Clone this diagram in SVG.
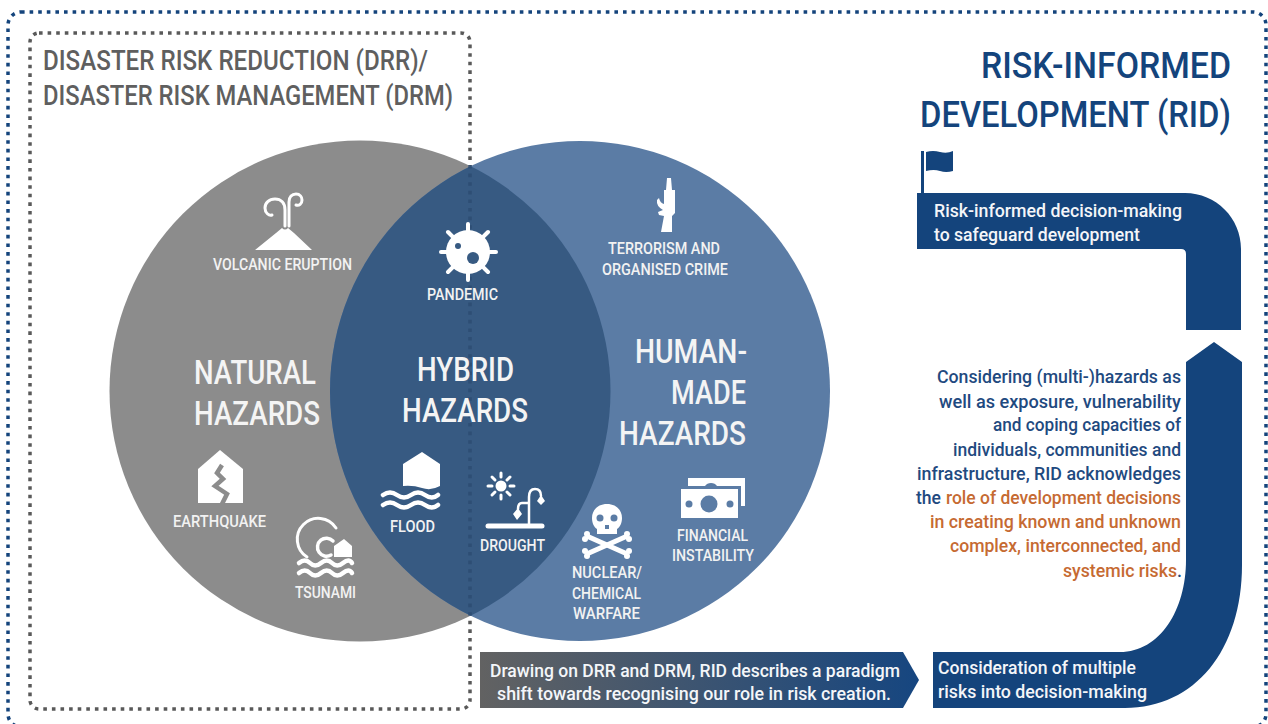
<svg xmlns="http://www.w3.org/2000/svg" width="1268" height="724" viewBox="0 0 1268 724">
<style>
text{font-family:"Roboto","Liberation Sans",sans-serif;font-weight:500}
.lab{fill:#f2f2f2;font-size:16px}
.big{fill:#f4f4f4;font-size:33.500px;font-weight:500}
.hd{fill:#5f5f5f;font-size:27.500px;font-weight:500}
.ttl{fill:#14447c;font-size:37px;font-weight:500}
.body{font-size:18px}
.bl{fill:#1f4a80}
.or{fill:#c66a32}
.wt{fill:#f4f6f9;font-size:18px}
.ic{fill:#fff;stroke:none}
.wave{fill:none;stroke:#fff;stroke-width:4.5;stroke-linecap:round}
.ln{fill:none;stroke:#fff;stroke-linecap:round}
</style>
<defs>
<linearGradient id="g" x1="0" x2="1" y1="0" y2="0"><stop offset="0" stop-color="#626262"/><stop offset="1" stop-color="#164680"/></linearGradient>
<clipPath id="cl"><circle cx="360" cy="391" r="250.500"/></clipPath>
</defs>
<rect width="1268" height="724" fill="#fff"/>
<g id="frames">
<rect x="8" y="12" width="1258" height="715" rx="13" fill="none" stroke="#14447c" stroke-width="3.500" stroke-dasharray="3.600 5"/>
<rect x="30" y="33" width="440" height="676" rx="9" fill="none" stroke="#595959" stroke-width="3.500" stroke-dasharray="3.600 5"/>
</g>
<g id="venn">
<circle cx="360" cy="391" r="250.500" fill="#8c8c8c"/>
<circle cx="580" cy="391" r="250" fill="#5b7ca5"/>
<circle cx="580" cy="391" r="250" fill="#375a82" clip-path="url(#cl)"/>
<line x1="470" y1="165" x2="470" y2="617" stroke="#2b4a70" stroke-width="3.500" stroke-dasharray="3.600 5" opacity=".75"/>
</g>
<g id="title-drr">
<text class="hd" x="43" y="70" textLength="385" lengthAdjust="spacingAndGlyphs">DISASTER RISK REDUCTION (DRR)/</text>
<text class="hd" x="43" y="105" textLength="410" lengthAdjust="spacingAndGlyphs">DISASTER RISK MANAGEMENT (DRM)</text>
</g>
<g id="title-rid">
<text class="ttl" x="981" y="78" textLength="250" lengthAdjust="spacingAndGlyphs">RISK-INFORMED</text>
<text class="ttl" transform="translate(920 127) scale(.9 1)" x="0" y="0" textLength="345.500" lengthAdjust="spacingAndGlyphs">DEVELOPMENT (RID)</text>
</g>
<g id="natural">
<text class="big" x="194" y="384" textLength="122" lengthAdjust="spacingAndGlyphs">NATURAL</text>
<text class="big" x="194" y="425" textLength="126" lengthAdjust="spacingAndGlyphs">HAZARDS</text>
</g>
<g id="hybrid">
<text class="big" x="417" y="381" textLength="97" lengthAdjust="spacingAndGlyphs">HYBRID</text>
<text class="big" x="402" y="422" textLength="126" lengthAdjust="spacingAndGlyphs">HAZARDS</text>
</g>
<g id="human">
<text class="big" x="635" y="363" textLength="112" lengthAdjust="spacingAndGlyphs">HUMAN-</text>
<text class="big" x="671" y="404" textLength="75" lengthAdjust="spacingAndGlyphs">MADE</text>
<text class="big" x="619" y="445" textLength="127" lengthAdjust="spacingAndGlyphs">HAZARDS</text>
</g>
<g id="volcano">
<path class="ic" d="M255 250L276 233L282 228Q285 231 288 228L294 233L312 250Z"/>
<path class="ln" stroke-width="3" d="M285 226V210C285 203 281 199 275 199C269 199 265 203 265 208C265 213 269 216 272 215"/>
<path class="ln" stroke-width="3" d="M289 226V202C289 197 292 194 296 194C300 194 302 197 302 200C302 204 299 206 296 205"/>
<text class="lab" x="213" y="270" textLength="139" lengthAdjust="spacingAndGlyphs">VOLCANIC ERUPTION</text>
</g>
<g id="pandemic">
<g stroke="#fff" stroke-width="4" stroke-linecap="round">
<line x1="468" y1="224" x2="468" y2="280"/><line x1="441" y1="252" x2="496" y2="252"/>
<line x1="448" y1="232" x2="488" y2="272"/><line x1="488" y1="232" x2="448" y2="272"/>
</g>
<circle class="ic" cx="468" cy="252" r="22"/>
<circle cx="458" cy="246" r="3" fill="#375a82"/>
<circle cx="473" cy="258" r="6" fill="#375a82"/>
<text class="lab" x="427" y="300" textLength="71" lengthAdjust="spacingAndGlyphs">PANDEMIC</text>
</g>
<g id="terrorism">
<path class="ic" d="M667 178H671L672 190H675V213L672 216V232H661L664 216L659 215L658 212L663 210Q656 206 657 200L659 198Q660 203 664 204V190H666Z"/>
<text class="lab" x="608" y="254" textLength="112" lengthAdjust="spacingAndGlyphs">TERRORISM AND</text>
<text class="lab" x="602" y="275" textLength="126" lengthAdjust="spacingAndGlyphs">ORGANISED CRIME</text>
</g>
<g id="earthquake">
<path class="ic" d="M220 450L243 469V503H198V469Z"/>
<path d="M222 465L217 473L223 479L215 486L227 494L222 504" fill="none" stroke="#8c8c8c" stroke-width="4.500"/>
<text class="lab" x="173" y="527" textLength="93" lengthAdjust="spacingAndGlyphs">EARTHQUAKE</text>
</g>
<g id="tsunami">
<path class="ln" stroke-width="3" d="M307 557A21 21 0 1 1 336 528"/>
<path class="ln" stroke-width="3.500" d="M333 541A9 9 0 1 0 331 555"/>
<path class="ic" d="M344 539L352 546V557H334V546Z"/>
<path class="wave" stroke-width="3.500" d="M299 563q6 -5 11 0t11 0t11 0t11 0t9 0M299 573q6 -5 11 0t11 0t11 0t11 0t9 0"/>
<text class="lab" x="295" y="598" textLength="61" lengthAdjust="spacingAndGlyphs">TSUNAMI</text>
</g>
<g id="flood">
<path class="ic" d="M422 452L440 464V486Q431 491 422 488T403 486V464Z"/>
<path class="wave" d="M383 495q7 -5 14 0t14 0t14 0t13 0M383 505q7 -5 14 0t14 0t14 0t13 0"/>
<text class="lab" x="390" y="532" textLength="45" lengthAdjust="spacingAndGlyphs">FLOOD</text>
</g>
<g id="drought">
<circle class="ic" cx="501" cy="486" r="5.500"/>
<g stroke="#fff" stroke-width="3" stroke-linecap="round">
<line x1="501" y1="473" x2="501" y2="477"/><line x1="501" y1="495" x2="501" y2="499"/>
<line x1="488" y1="486" x2="492" y2="486"/><line x1="510" y1="486" x2="514" y2="486"/>
<line x1="492" y1="477" x2="495" y2="480"/><line x1="507" y1="492" x2="510" y2="495"/>
<line x1="510" y1="477" x2="507" y2="480"/><line x1="495" y1="492" x2="492" y2="495"/>
</g>
<line x1="488" y1="526" x2="542" y2="526" stroke="#fff" stroke-width="5" stroke-linecap="round"/>
<path class="ln" stroke-width="2.500" d="M529 524V497Q529 489 535 489T541 496M529 503H522Q518 503 518 509"/>
<path class="ic" d="M541 495L545 501L541 505L537 501ZM518 508L522 514L517 520L513 514Z"/>
<text class="lab" x="480" y="551" textLength="65" lengthAdjust="spacingAndGlyphs">DROUGHT</text>
</g>
<g id="nuclear">
<path class="ic" d="M607 504C616 504 622 510 622 518C622 523 620 527 617 529V534H597V529C594 527 592 523 592 518C592 510 598 504 607 504Z"/>
<circle cx="600" cy="518" r="3.500" fill="#5b7ca5"/><circle cx="614" cy="518" r="3.500" fill="#5b7ca5"/>
<path d="M605 529h4v-4h-4z" fill="#5b7ca5"/>
<g stroke="#fff" stroke-width="5" stroke-linecap="round">
<line x1="589" y1="537" x2="625" y2="553"/><line x1="625" y1="537" x2="589" y2="553"/>
</g>
<g class="ic"><circle cx="587" cy="534" r="3"/><circle cx="585" cy="539" r="3"/><circle cx="627" cy="534" r="3"/><circle cx="629" cy="539" r="3"/><circle cx="587" cy="556" r="3"/><circle cx="585" cy="551" r="3"/><circle cx="627" cy="556" r="3"/><circle cx="629" cy="551" r="3"/></g>
<text class="lab" x="572" y="578" textLength="70" lengthAdjust="spacingAndGlyphs">NUCLEAR/</text>
<text class="lab" x="572" y="599" textLength="69" lengthAdjust="spacingAndGlyphs">CHEMICAL</text>
<text class="lab" x="573" y="619" textLength="67" lengthAdjust="spacingAndGlyphs">WARFARE</text>
</g>
<g id="financial">
<path class="ic" d="M688 478H745V506H741V486H717Q715 483 711 483T705 486H688Z"/>
<rect class="ic" x="681" y="489" width="57" height="29"/>
<circle cx="709" cy="504" r="8.500" fill="#5b7ca5"/>
<circle cx="689" cy="504" r="3.500" fill="#5b7ca5"/><circle cx="730" cy="504" r="3.500" fill="#5b7ca5"/>
<text class="lab" x="677" y="541" textLength="71" lengthAdjust="spacingAndGlyphs">FINANCIAL</text>
<text class="lab" x="672" y="561" textLength="82" lengthAdjust="spacingAndGlyphs">INSTABILITY</text>
</g>
<g id="connectors">
<path fill="#14447c" d="M917 193H1185C1216 193 1241 218 1241 249V330H1186V254Q1186 249 1181 249H917Z"/>
<path fill="#14447c" d="M1214 342L1242 362V565C1242 650 1195 708 1125 708H933V652H1120C1160 652 1186 610 1186 560V362Z"/>
<path fill="url(#g)" d="M480 652H903L919 680L903 708H480Z"/>
</g>
<g id="flag">
<rect x="921" y="151" width="3" height="42" fill="#14447c"/>
<path fill="#14447c" d="M926 152Q933 150 940 152T953 151V171Q946 173 940 171T926 171Z"/>
</g>
<g id="rid-top">
<text class="wt" x="934" y="217" textLength="248" lengthAdjust="spacingAndGlyphs">Risk-informed decision-making</text>
<text class="wt" x="934" y="241" textLength="206" lengthAdjust="spacingAndGlyphs">to safeguard development</text>
</g>
<g id="rid-body" class="body">
<text class="bl" x="937" y="383" textLength="244" lengthAdjust="spacingAndGlyphs">Considering (multi-)hazards as</text>
<text class="bl" x="939" y="408" textLength="242" lengthAdjust="spacingAndGlyphs">well as exposure, vulnerability</text>
<text class="bl" x="993" y="431" textLength="188" lengthAdjust="spacingAndGlyphs">and coping capacities of</text>
<text class="bl" x="953" y="456" textLength="228" lengthAdjust="spacingAndGlyphs">individuals, communities and</text>
<text class="bl" x="917" y="480" textLength="264" lengthAdjust="spacingAndGlyphs">infrastructure, RID acknowledges</text>
<text class="bl" x="916" y="504" textLength="25" lengthAdjust="spacingAndGlyphs">the</text>
<text class="or" x="946" y="504" textLength="235" lengthAdjust="spacingAndGlyphs">role of development decisions</text>
<text class="or" x="930" y="528" textLength="251" lengthAdjust="spacingAndGlyphs">in creating known and unknown</text>
<text class="or" x="950" y="552" textLength="231" lengthAdjust="spacingAndGlyphs">complex, interconnected, and</text>
<text class="or" x="1063" y="577" textLength="114" lengthAdjust="spacingAndGlyphs">systemic risks</text>
<text class="bl" x="1177" y="577">.</text>
</g>
<g id="paradigm">
<text class="wt" x="490" y="677" textLength="410" lengthAdjust="spacingAndGlyphs">Drawing on DRR and DRM, RID describes a paradigm</text>
<text class="wt" x="497" y="700" textLength="394" lengthAdjust="spacingAndGlyphs">shift towards recognising our role in risk creation.</text>
</g>
<g id="multi">
<text class="wt" x="938" y="674" textLength="198" lengthAdjust="spacingAndGlyphs">Consideration of multiple</text>
<text class="wt" x="938" y="698" textLength="209" lengthAdjust="spacingAndGlyphs">risks into decision-making</text>
</g>
</svg>
